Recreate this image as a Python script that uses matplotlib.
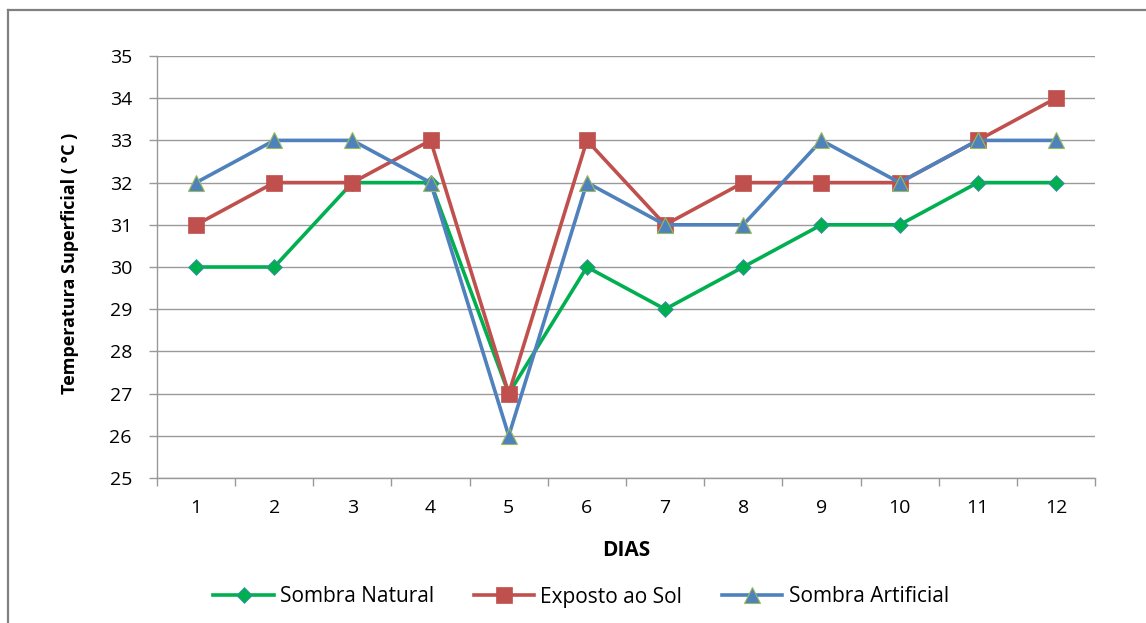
import matplotlib
matplotlib.use("Agg")
import matplotlib.pyplot as plt
from matplotlib.lines import Line2D

dias = [1, 2, 3, 4, 5, 6, 7, 8, 9, 10, 11, 12]
sombra_natural = [30, 30, 32, 32, 27, 30, 29, 30, 31, 31, 32, 32]
exposto_sol = [31, 32, 32, 33, 27, 33, 31, 32, 32, 32, 33, 34]
sombra_artificial = [32, 33, 33, 32, 26, 32, 31, 31, 33, 32, 33, 33]
y_ticks = [25, 26, 27, 28, 29, 30, 31, 32, 33, 34, 35]

plt.rcParams['font.family'] = ['Open Sans', 'DejaVu Sans']

fig = plt.figure(figsize=(11.46, 6.23), dpi=100)
ax = fig.add_axes([157/1146, 1-478/623, (1095-157)/1146, (478-56)/623])

x = list(range(len(dias)))
ax.plot(x, sombra_natural, color='#00B050', lw=2.6, marker='D', ms=8,
        mfc='#00B050', mec='#4F81BD', mew=0.5, label='Sombra Natural', zorder=3)
ax.plot(x, exposto_sol, color='#C0504D', lw=2.6, marker='s', ms=11,
        mfc='#C0504D', mec='#C0504D', mew=0.5, label='Exposto ao Sol', zorder=4)
ax.plot(x, sombra_artificial, color='#4F81BD', lw=2.6, marker='^', ms=12,
        mfc='#4F81BD', mec='#9BBB59', mew=0.8, label='Sombra Artificial', zorder=5)

ax.set_xlim(-0.5, len(dias) - 0.5)
ax.set_ylim(25, 35)
ax.set_yticks(y_ticks)
ax.set_yticklabels([str(v) for v in y_ticks], fontsize=14)
ax.set_xticks(x)
ax.set_xticklabels([str(d) for d in dias], fontsize=14)
ax.tick_params(axis='x', length=0, pad=15)
ax.set_xticks([i - 0.5 for i in range(len(dias) + 1)], minor=True)
ax.tick_params(axis='x', which='minor', length=6, color='#999999', width=1)
ax.tick_params(axis='y', length=6, color='#999999', width=1, pad=12)

ax.grid(axis='y', color='#9a9a9a', lw=1)
ax.set_axisbelow(True)
for s in ['top', 'right']:
    ax.spines[s].set_visible(False)
for s in ['left', 'bottom']:
    ax.spines[s].set_color('#999999')
    ax.spines[s].set_linewidth(1)

fig.text(70/1146, 1-263/623, 'Temperatura Superficial ( °C )', rotation=90,
         ha='center', va='center', fontsize=13, fontweight='bold')
fig.text(626/1146, 1-551/623, 'DIAS', ha='center', va='center',
         fontsize=15, fontweight='bold')

fig.legend(loc='center', bbox_to_anchor=(581/1146, 1-597/623), ncol=3,
           frameon=False, fontsize=15, handlelength=2.9, handletextpad=0.3,
           columnspacing=1.9)

fig.add_artist(Line2D([8/1146, 1.0], [1-10/623, 1-10/623], color='#808080', lw=1.6))
fig.add_artist(Line2D([8/1146, 8/1146], [1-10/623, 0.0], color='#808080', lw=1.6))

fig.savefig('out.png', dpi=100)
